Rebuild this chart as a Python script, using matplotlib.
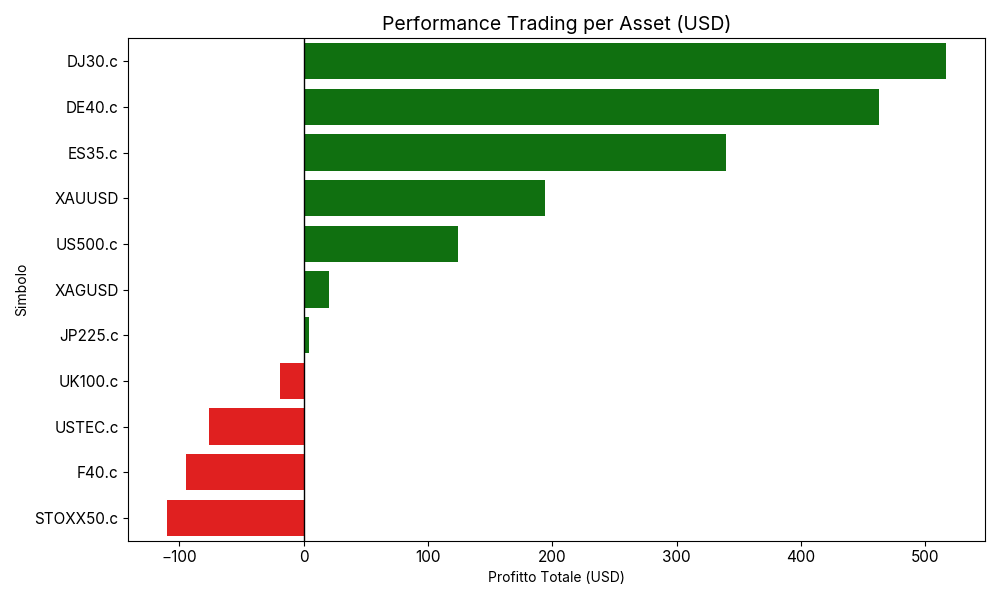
import matplotlib
matplotlib.use("Agg")
import matplotlib.pyplot as plt
import seaborn as sns
import pandas as pd

# dati: profitto totale per simbolo
simboli = ["DJ30.c", "DE40.c", "ES35.c", "XAUUSD", "US500.c", "XAGUSD",
           "JP225.c", "UK100.c", "USTEC.c", "F40.c", "STOXX50.c"]
profitti = [517, 463, 340, 194, 124, 20, 4, -19, -76, -95, -110]

df = pd.DataFrame({"Simbolo": simboli, "Profitto Totale (USD)": profitti})
colori = ["#107010" if p >= 0 else "#e02020" for p in profitti]

plt.rcParams["font.family"] = ["Inter", "DejaVu Sans"]

fig, ax = plt.subplots(figsize=(10, 6), dpi=100)
sns.barplot(data=df, y="Simbolo", x="Profitto Totale (USD)", hue="Simbolo",
            palette=colori, saturation=1, legend=False, ax=ax)
ax.axvline(0, color="black", linewidth=1)
ax.set_xlim(-141, 548)
ax.set_title("Performance Trading per Asset (USD)", fontsize=14)
ax.set_xlabel("Profitto Totale (USD)", fontsize=10)
ax.set_ylabel("Simbolo", fontsize=10)
ax.tick_params(axis="both", labelsize=11)
plt.tight_layout()
plt.savefig("out.png")
